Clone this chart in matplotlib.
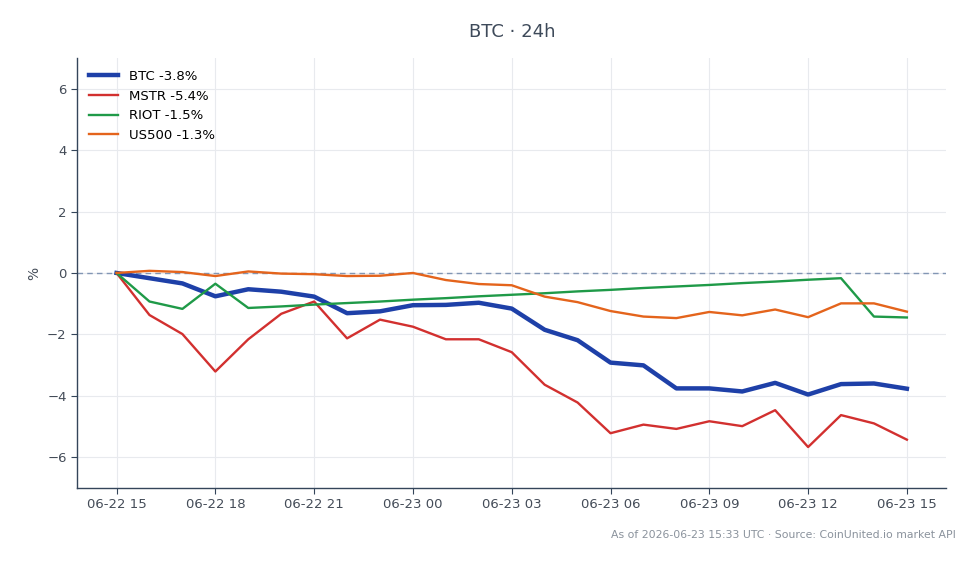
import numpy as np
import pandas as pd
import matplotlib
matplotlib.use('Agg')
import matplotlib.pyplot as plt
import matplotlib.dates as mdates

# hourly % change over the last 24h
times = pd.date_range('2026-06-22 15:00', periods=25, freq='h')

btc = [0.0, -0.17, -0.34, -0.76, -0.53, -0.61, -0.77, -1.31, -1.25, -1.05, -1.04, -0.97,
       -1.16, -1.85, -2.19, -2.92, -3.01, -3.76, -3.76, -3.86, -3.58, -3.96, -3.62, -3.60, -3.77]
mstr = [0.0, -1.37, -1.99, -3.21, -2.16, -1.33, -0.93, -2.13, -1.52, -1.75, -2.16, -2.16,
        -2.58, -3.64, -4.22, -5.22, -4.94, -5.08, -4.83, -4.99, -4.47, -5.67, -4.63, -4.90, -5.43]
riot = [0.0, -0.93, -1.17, -0.35, -1.14, -1.09, -1.03, -0.98, -0.93, -0.87, -0.82, -0.76,
        -0.71, -0.66, -0.60, -0.55, -0.49, -0.44, -0.39, -0.33, -0.28, -0.22, -0.17, -1.42, -1.45]
us500 = [0.0, 0.07, 0.03, -0.10, 0.05, -0.02, -0.04, -0.10, -0.09, 0.0, -0.23, -0.36,
         -0.40, -0.77, -0.95, -1.24, -1.42, -1.47, -1.27, -1.38, -1.19, -1.44, -0.99, -0.99, -1.26]

series = [
    ('BTC -3.8%', btc, '#1e40a8', 3.2),
    ('MSTR -5.4%', mstr, '#d2302f', 1.7),
    ('RIOT -1.5%', riot, '#1f9a48', 1.7),
    ('US500 -1.3%', us500, '#e4641c', 1.7),
]

fig = plt.figure(figsize=(9.79, 5.64), dpi=100)
ax = fig.add_axes([0.0787, 0.135, 0.888, 0.762])

for name, vals, col, lw in series:
    ax.plot(times, vals, color=col, lw=lw, label=name, zorder=2)

ax.axhline(0, color='#8296b4', lw=1, ls=(0, (4, 3)), zorder=1.5)

ax.set_ylim(-7, 7)
ax.set_yticks([-6, -4, -2, 0, 2, 4, 6])
ax.yaxis.set_major_formatter(plt.FuncFormatter(lambda v, p: f'{v:.0f}'.replace('-', '\u2212')))
ax.xaxis.set_major_locator(mdates.HourLocator(byhour=range(0, 24, 3)))
ax.xaxis.set_major_formatter(mdates.DateFormatter('%m-%d %H'))

ax.grid(True, color='#e8eaee', lw=0.8)
ax.set_axisbelow(True)
for s in ['top', 'right']:
    ax.spines[s].set_visible(False)
for s in ['left', 'bottom']:
    ax.spines[s].set_color('#34455a')
    ax.spines[s].set_linewidth(1.0)
ax.tick_params(colors='#34455a', labelcolor='#444c58', labelsize=9.5, length=4)
ax.set_ylabel('%', color='#444c58', fontsize=10)

ax.legend(loc='upper left', frameon=False, fontsize=9.5, handlelength=2.2,
          borderaxespad=0.5, labelspacing=0.5)

fig.text(0.523, 0.943, 'BTC · 24h', ha='center', va='center', fontsize=13, color='#3e4a5a')
fig.text(0.976, 0.052, 'As of 2026-06-23 15:33 UTC · Source: CoinUnited.io market API',
         ha='right', va='center', fontsize=7.8, color='#8a929c')

fig.savefig('out.png', dpi=100)
